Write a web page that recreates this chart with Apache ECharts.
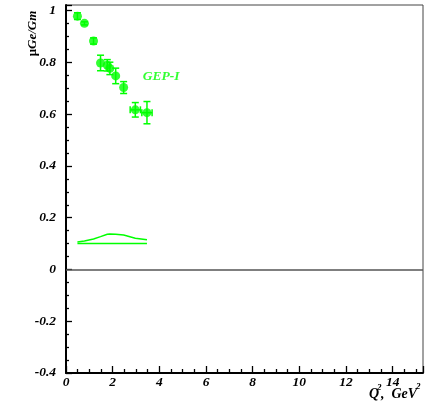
<!DOCTYPE html>
<html>
<head>
<meta charset="utf-8">
<script src="https://cdn.jsdelivr.net/npm/echarts@6/dist/echarts.min.js"></script>
<style>
  html, body { margin: 0; padding: 0; background: #fff; }
  #chart { width: 432px; height: 407px; }
</style>
</head>
<body>
<div id="chart"></div>
<script>
// GEp-I recoil polarization results: mu*Ge/Gm versus Q^2
const q2 = [0.49, 0.79, 1.18, 1.48, 1.77, 1.88, 2.13, 2.47, 2.97, 3.47];
const ratio = [0.979, 0.951, 0.883, 0.798, 0.789, 0.777, 0.748, 0.703, 0.617, 0.606];
const errRatio = [0.013, 0.006, 0.012, 0.030, 0.022, 0.024, 0.030, 0.023, 0.028, 0.043];
const errQ2 = [0, 0, 0, 0, 0, 0, 0, 0, 0.22, 0.22];

// systematic band: baseline and upper edge
const sysBase = 0.1;
const sysUpper = [0.106, 0.110, 0.118, 0.127, 0.136, 0.137, 0.136, 0.133, 0.121, 0.115];

const xTicks = [0, 2, 4, 6, 8, 10, 12, 14];
const yTicks = [-0.4, -0.2, 0, 0.2, 0.4, 0.6, 0.8, 1];

const GREEN = '#00ff00';
const FONT = 'Liberation Serif';

const chart = echarts.init(document.getElementById('chart'), null, { renderer: 'canvas' });

const pts = q2.map((x, i) => [x, ratio[i], errRatio[i], errQ2[i]]);

function errorBars(params, api) {
  const x = api.value(0), y = api.value(1), ey = api.value(2), ex = api.value(3);
  const c = api.coord([x, y]);
  const top = api.coord([x, y + ey]);
  const bot = api.coord([x, y - ey]);
  const cap = 3.5;
  const style = { stroke: GREEN, lineWidth: 1.5 };
  const children = [];
  if (ey > 0) {
    children.push(
      { type: 'line', shape: { x1: c[0], y1: top[1], x2: c[0], y2: bot[1] }, style },
      { type: 'line', shape: { x1: c[0] - cap, y1: top[1], x2: c[0] + cap, y2: top[1] }, style },
      { type: 'line', shape: { x1: c[0] - cap, y1: bot[1], x2: c[0] + cap, y2: bot[1] }, style }
    );
  }
  if (ex > 0) {
    const l = api.coord([x - ex, y]);
    const r = api.coord([x + ex, y]);
    children.push(
      { type: 'line', shape: { x1: l[0], y1: c[1], x2: r[0], y2: c[1] }, style },
      { type: 'line', shape: { x1: l[0], y1: c[1] - cap, x2: l[0], y2: c[1] + cap }, style },
      { type: 'line', shape: { x1: r[0], y1: c[1] - cap, x2: r[0], y2: c[1] + cap }, style }
    );
  }
  return { type: 'group', children };
}

const labelStyle = {
  fontFamily: FONT, fontWeight: 'bold', fontStyle: 'italic', fontSize: 13.5, color: '#000'
};

function titleText(str, x, y, size, align) {
  return {
    type: 'text', x, y,
    style: {
      text: str, align: align || 'left', verticalAlign: 'middle',
      fontFamily: FONT, fontWeight: 'bold', fontStyle: 'italic', fontSize: size, fill: '#000'
    }
  };
}

chart.setOption({
  animation: false,
  backgroundColor: '#fff',
  grid: {
    left: 66, right: 9, top: 5, bottom: 34,
    show: true, borderColor: '#444', borderWidth: 1, backgroundColor: 'transparent'
  },
  xAxis: {
    type: 'value', min: 0, max: 15.3, interval: 2,
    axisLine: { show: true, onZero: false, lineStyle: { color: '#000', width: 2 } },
    axisTick: { show: true, inside: true, length: 7, lineStyle: { color: '#000', width: 1.3 } },
    minorTick: { show: true, splitNumber: 4, length: 4, lineStyle: { color: '#000', width: 1.3 } },
    splitLine: { show: false },
    axisLabel: Object.assign({
      margin: 3,
      showMaxLabel: false,
      formatter: v => (xTicks.indexOf(v) >= 0 ? String(v) : '')
    }, labelStyle)
  },
  yAxis: {
    type: 'value', min: -0.4, max: 1.022, interval: 0.2,
    axisLine: { show: true, onZero: false, lineStyle: { color: '#000', width: 2 } },
    axisTick: { show: true, inside: true, length: 6, lineStyle: { color: '#000', width: 1.3 } },
    minorTick: { show: true, splitNumber: 4, length: 3, lineStyle: { color: '#000', width: 1.3 } },
    splitLine: { show: false },
    axisLabel: Object.assign({
      margin: 10,
      showMaxLabel: false,
      formatter: v => {
        const r = Math.round(v * 10) / 10;
        return yTicks.some(t => Math.abs(t - r) < 1e-9) && Math.abs(v - r) < 1e-9 ? String(r) : '';
      }
    }, labelStyle)
  },
  series: [
    {
      // zero reference line
      type: 'line', data: [], silent: true,
      markLine: {
        symbol: 'none', silent: true, label: { show: false },
        lineStyle: { color: '#555', width: 1.6, type: 'solid' },
        data: [{ yAxis: 0 }]
      }
    },
    {
      type: 'line', data: q2.map(x => [x, sysBase]),
      symbol: 'none', lineStyle: { color: GREEN, width: 1.5 }
    },
    {
      type: 'line', data: q2.map((x, i) => [x, sysUpper[i]]),
      symbol: 'none', lineStyle: { color: GREEN, width: 1.5 }
    },
    {
      type: 'custom', data: pts, renderItem: errorBars, z: 3,
      encode: { x: 0, y: 1 }
    },
    {
      type: 'scatter', data: pts.map(p => [p[0], p[1]]),
      symbol: 'circle', symbolSize: 9, z: 4,
      itemStyle: { color: GREEN },
      label: { show: false }
    },
    {
      type: 'scatter', data: [[3.29, 0.746]], symbolSize: 0, silent: true,
      label: {
        show: true, position: 'inside', formatter: 'GEP-I',
        fontFamily: FONT, fontWeight: 'bold', fontStyle: 'italic', fontSize: 13.5,
        color: GREEN, align: 'left', verticalAlign: 'middle'
      }
    }
  ],
  graphic: [
    {
      type: 'text', x: 33, y: 33.5, rotation: Math.PI / 2,
      style: {
        text: '{m|μ}{t|Ge/Gm}', align: 'center', verticalAlign: 'middle',
        rich: {
          m: { fontFamily: FONT, fontWeight: 'bold', fontSize: 13, fill: '#000' },
          t: { fontFamily: FONT, fontWeight: 'bold', fontStyle: 'italic', fontSize: 13, fill: '#000' }
        }
      }
    },
    // x-axis title Q², GeV²
    titleText('Q', 369, 394, 14),
    titleText('2', 377, 388, 9),
    titleText(',  GeV', 381, 394, 14),
    titleText('2', 416, 387, 9)
  ]
});
</script>
</body>
</html>
